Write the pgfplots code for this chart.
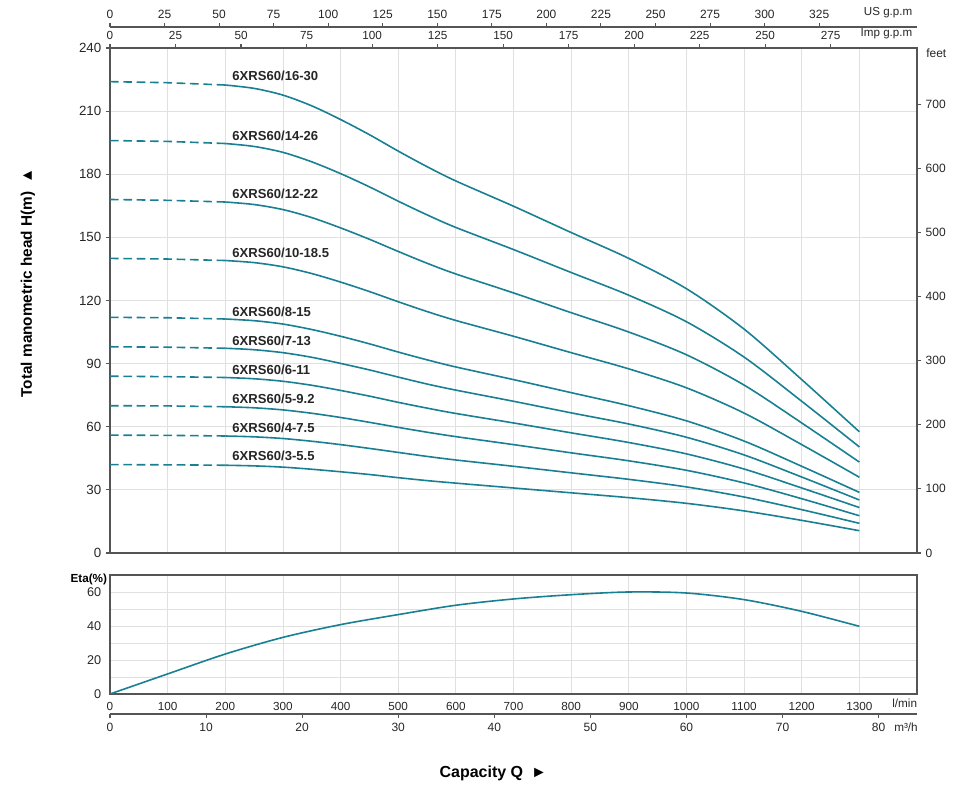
\documentclass[border=0pt]{standalone}
\usepackage{fontspec}
\setmainfont{Liberation Sans}
\usepackage{pgfplots}
\pgfplotsset{compat=1.18}
\usepackage{pgfplotstable}
\definecolor{curve}{RGB}{24,128,146}
\definecolor{gridc}{RGB}{224,224,224}
\definecolor{axc}{RGB}{85,85,85}

\pgfplotstableread{
Q a16 a14 a12 a10 a8 a7 a6 a5 a4 a3
0 224 196 168 140 112 98 84 70 56 42
100 223.5 195.6 167.6 139.7 111.8 97.8 83.8 69.9 55.9 41.9
200 222.4 194.6 166.8 139 111.2 97.3 83.4 69.5 55.6 41.7
250 220.8 193.2 165.6 138 110.4 96.6 82.8 69 55.2 41.4
300 217.6 190.4 163.2 136 108.8 95.2 81.6 68 54.4 40.8
350 212.5 185.9 159.4 132.8 106.2 93.0 79.7 66.4 53.1 39.8
400 206 180.3 154.5 128.75 103 90.1 77.25 64.4 51.5 38.6
450 198.8 174.0 149.1 124.25 99.4 87.0 74.55 62.1 49.7 37.3
500 191.0 167.2 143.3 119.4 95.5 83.6 71.6 59.7 47.8 35.8
550 183.6 160.7 137.7 114.75 91.8 80.3 68.85 57.4 45.9 34.4
600 176.8 154.7 132.6 110.5 88.4 77.4 66.3 55.3 44.2 33.2
700 164.8 144.2 123.6 103 82.4 72.1 61.8 51.5 41.2 30.9
800 152.3 133.3 114.2 95.2 76.2 66.6 57.1 47.6 38.1 28.6
900 140 122.5 105 87.5 70 61.3 52.5 43.8 35 26.3
1000 125.6 109.9 94.2 78.5 62.8 55 47.1 39.3 31.4 23.6
1100 106.4 93.1 79.8 66.5 53.2 46.6 39.9 33.3 26.6 20
1200 82.4 72.1 61.8 51.5 41.2 36.1 30.9 25.8 20.6 15.5
1300 57.6 50.4 43.2 36 28.8 25.2 21.6 17.7 14.1 10.6
}\heads

\pgfplotstableread{
Q eta
0 0
100 11.8
200 23.5
300 33.3
400 40.8
500 46.7
600 52.2
700 55.9
800 58.4
900 60
1000 59.4
1100 55.5
1200 48.6
1300 39.8
}\eta

\begin{document}
\begin{tikzpicture}
\useasboundingbox (0,0) rectangle (720pt,590.25pt);
\pgfplotsset{
  every axis/.append style={
    scale only axis,
    axis line style={axc, line width=0.9pt},
    tick style={axc, line width=0.8pt},
    major tick length=3pt,
    tick align=outside,
    /pgf/number format/assume math mode=true,
    /pgf/number format/1000 sep={},
    ticklabel style={text=black!85},
  },
}
% ---------------- main head axis
\begin{axis}[
  at={(82.5pt,175.5pt)}, anchor=south west,
  width=605.25pt, height=378.75pt,
  xmin=0, xmax=1400, ymin=0, ymax=240,
  xtick={0,100,...,1300}, xticklabels={},
  x tick style={draw=none},
  ytick={0,30,...,240}, ytick pos=left,
  yticklabel style={font=\fontsize{10}{12}\selectfont},
  grid=major, major grid style={gridc, line width=0.6pt},
]
\pgfplotsinvokeforeach{a16,a14,a12,a10,a8,a7,a6,a5,a4,a3}{
  \addplot[curve, line width=1.2pt, dash pattern=on 6.5pt off 3.5pt, restrict x to domain=0:200] table[x=Q,y=#1]{\heads};
  \addplot[curve, line width=1.2pt, smooth, restrict x to domain=200:1300] table[x=Q,y=#1]{\heads};
}
\begin{scope}[every node/.style={anchor=west, font=\fontsize{9.8}{11}\selectfont\bfseries, text=black!85, inner sep=0pt}]
\node at (axis cs:212,226.8) {6XRS60/16-30};
\node at (axis cs:212,198.3) {6XRS60/14-26};
\node at (axis cs:212,170.6) {6XRS60/12-22};
\node at (axis cs:212,142.8) {6XRS60/10-18.5};
\node at (axis cs:212,114.4) {6XRS60/8-15};
\node at (axis cs:212,100.9) {6XRS60/7-13};
\node at (axis cs:212,87.0) {6XRS60/6-11};
\node at (axis cs:212,73.2) {6XRS60/5-9.2};
\node at (axis cs:212,59.4) {6XRS60/4-7.5};
\node at (axis cs:212,46.3) {6XRS60/3-5.5};
\end{scope}
\end{axis}

% ---------------- feet axis (right)
\begin{axis}[
  at={(82.5pt,175.5pt)}, anchor=south west,
  width=605.25pt, height=378.75pt,
  xmin=0, xmax=1400, ymin=0, ymax=787.4,
  axis x line=none, axis y line*=right,
  ytick={0,100,...,700},
  yticklabel style={font=\fontsize{9}{11}\selectfont},
]
\addplot[draw=none] coordinates {(0,0)};
\end{axis}

% ---------------- Imp gpm axis (top of main)
\begin{axis}[
  at={(82.5pt,175.5pt)}, anchor=south west,
  width=605.25pt, height=378.75pt,
  xmin=0, xmax=307.96, ymin=0, ymax=1,
  axis y line=none, axis x line*=top,
  xtick={0,25,...,275},
  xticklabel style={font=\fontsize{8.8}{10}\selectfont},
]
\addplot[draw=none] coordinates {(0,0)};
\end{axis}

% ---------------- US gpm axis
\begin{axis}[
  at={(82.5pt,570pt)}, anchor=north west,
  width=605.25pt, height=5pt,
  xmin=0, xmax=369.84, ymin=0, ymax=1,
  axis y line=none, axis x line*=top,
  xtick={0,25,...,325},
  xticklabel style={font=\fontsize{9}{10}\selectfont},
]
\addplot[draw=none] coordinates {(0,0)};
\end{axis}

% ---------------- Eta axis
\begin{axis}[
  at={(82.5pt,69.75pt)}, anchor=south west,
  width=605.25pt, height=89.25pt,
  xmin=0, xmax=1400, ymin=0, ymax=70,
  xtick={0,100,...,1300}, ytick={0,20,40,60}, minor ytick={10,30,50},
  xtick pos=bottom, ytick pos=left,
  tick style={draw=none},
  grid=both, major grid style={gridc, line width=0.6pt}, minor grid style={gridc, line width=0.6pt},
  xticklabel style={font=\fontsize{8.8}{10}\selectfont},
  yticklabel style={font=\fontsize{9.5}{11}\selectfont},
]
\addplot[curve, line width=1.2pt, smooth] table[x=Q,y=eta]{\eta};
\end{axis}

% ---------------- m3/h axis
\begin{axis}[
  at={(82.5pt,54.75pt)}, anchor=south west,
  width=605.25pt, height=5pt,
  xmin=0, xmax=84, ymin=0, ymax=1,
  axis y line=none, axis x line*=bottom,
  xtick={0,10,...,80},
  xticklabel style={font=\fontsize{9}{10}\selectfont},
]
\addplot[draw=none] coordinates {(0,0)};
\end{axis}

% ---------------- texts
\node[anchor=east, font=\fontsize{8.7}{10}\selectfont, text=black!85] at (687.75pt,580.7pt) {US g.p.m};
\node[anchor=east, font=\fontsize{8.7}{10}\selectfont, text=black!85] at (687.75pt,565.25pt) {Imp g.p.m};
\node[anchor=west, font=\fontsize{9}{10}\selectfont, text=black!85, inner sep=0pt] at (694.5pt,550.5pt) {feet};
\node[anchor=east, font=\fontsize{8.8}{10}\selectfont, text=black!85, inner sep=0pt] at (688pt,62.8pt) {l/min};
\node[anchor=east, font=\fontsize{8.8}{10}\selectfont, text=black!85, inner sep=0pt] at (688.5pt,45pt) {m³/h};
\node[anchor=east, font=\fontsize{8.8}{10}\selectfont\bfseries, text=black, inner sep=0pt] at (80.5pt,156pt) {Eta(\%)};
\node[font=\fontsize{12}{14}\selectfont\bfseries, text=black] at (370pt,10.5pt) {Capacity Q\enspace ►};
\node[rotate=90, font=\fontsize{11.5}{13}\selectfont\bfseries, text=black] at (21pt,378pt) {Total manometric head H(m)\enspace ▲};
\end{tikzpicture}
\end{document}
